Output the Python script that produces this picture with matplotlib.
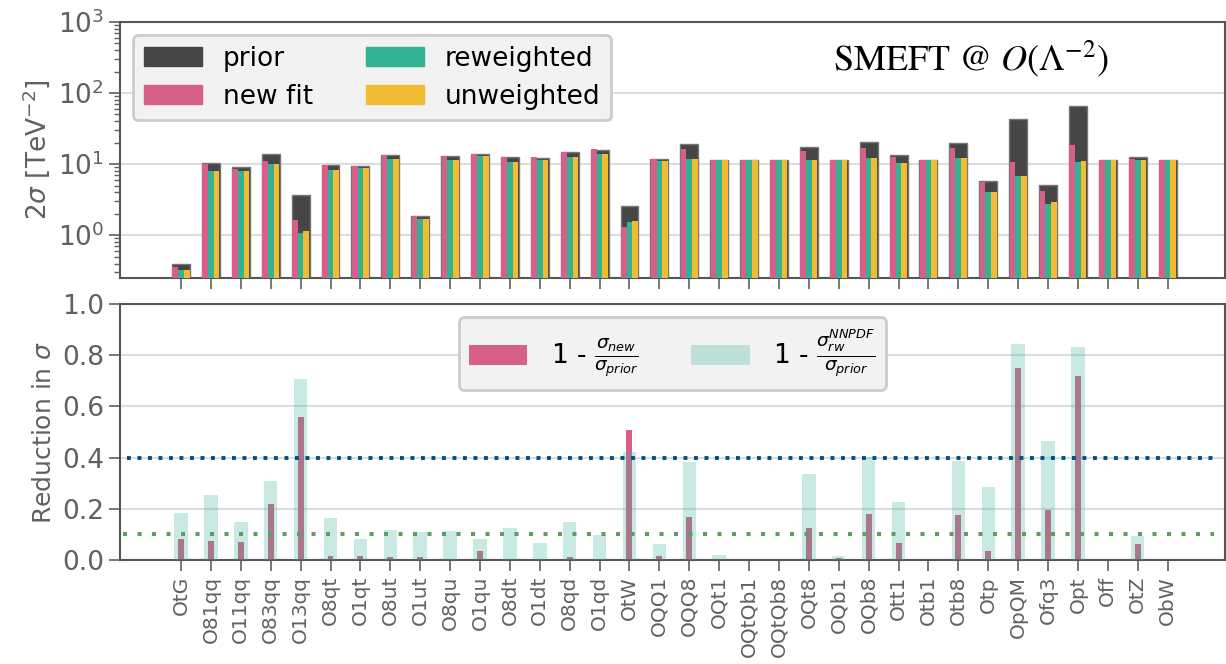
import numpy as np
import matplotlib
matplotlib.use('Agg')
import matplotlib.pyplot as plt
from matplotlib.patches import Patch

# operator names
ops = ['OtG', 'O81qq', 'O11qq', 'O83qq', 'O13qq', 'O8qt', 'O1qt', 'O8ut', 'O1ut',
       'O8qu', 'O1qu', 'O8dt', 'O1dt', 'O8qd', 'O1qd', 'OtW', 'OQQ1', 'OQQ8', 'OQt1',
       'OQtQb1', 'OQtQb8', 'OQt8', 'OQb1', 'OQb8', 'Ott1', 'Otb1', 'Otb8', 'Otp',
       'OpQM', 'Ofq3', 'Opt', 'Off', 'OtZ', 'ObW']

# 2 sigma bounds [TeV^-2]
prior = [0.39, 10.5, 9.1, 14.1, 3.64, 9.8, 9.5, 13.4, 1.87, 12.9, 13.8, 12.5, 12.3,
         14.6, 15.6, 2.61, 11.8, 19.1, 11.4, 11.4, 11.3, 17.5, 11.5, 20.4, 13.5, 11.3,
         20.0, 5.72, 43.3, 5.14, 66.6, 11.3, 12.7, 11.3]
new_fit = [0.36, 9.9, 8.5, 11.0, 1.62, 9.8, 9.5, 13.4, 1.87, 12.9, 13.7, 12.5, 12.6,
           14.6, 16.2, 1.29, 11.8, 16.1, 11.4, 11.4, 11.3, 15.4, 11.5, 16.8, 12.8, 11.3,
           16.8, 5.53, 10.6, 4.14, 18.7, 11.3, 11.8, 11.3]
reweighted = [0.32, 7.9, 7.9, 10.0, 1.07, 8.2, 8.8, 12.0, 1.69, 11.5, 13.1, 10.9, 11.5,
              12.5, 14.1, 1.52, 11.0, 12.0, 11.4, 11.4, 11.3, 11.6, 11.5, 12.1, 10.4, 11.3,
              12.4, 4.10, 6.72, 2.75, 10.9, 11.3, 11.4, 11.3]
unweighted = [0.32, 7.9, 7.9, 10.0, 1.14, 8.2, 8.8, 12.0, 1.69, 11.5, 13.1, 10.9, 11.5,
              12.5, 14.1, 1.57, 11.0, 12.0, 11.4, 11.4, 11.3, 11.6, 11.5, 12.3, 10.4, 11.3,
              12.4, 4.10, 6.72, 2.90, 11.1, 11.3, 11.4, 11.3]

# reduction in sigma
red_new = [0.081, 0.074, 0.071, 0.22, 0.559, 0.017, 0.017, 0.013, 0.010, 0.003, 0.036,
           0.004, 0.0, 0.010, 0.0, 0.506, 0.014, 0.167, 0.003, 0.0, 0.0, 0.125, 0.006,
           0.178, 0.066, 0.0, 0.177, 0.035, 0.752, 0.195, 0.72, 0.0, 0.0625, 0.0]
red_rw = [0.184, 0.255, 0.150, 0.307, 0.707, 0.163, 0.083, 0.117, 0.110, 0.112, 0.082,
          0.125, 0.066, 0.147, 0.099, 0.423, 0.064, 0.381, 0.019, 0.0, 0.0, 0.336, 0.017,
          0.401, 0.228, 0.0, 0.388, 0.284, 0.844, 0.465, 0.834, 0.0, 0.094, 0.0]

c_prior = '#464646'
c_new = '#d6608a'
c_rw = '#34b294'
c_unw = '#f2bc32'
c_tick = '#606060'

plt.rcParams['font.family'] = ['DejaVu Sans']
plt.rcParams['axes.edgecolor'] = '#555555'
plt.rcParams['axes.linewidth'] = 1.5
plt.rcParams['xtick.color'] = c_tick
plt.rcParams['ytick.color'] = c_tick
plt.rcParams['axes.labelcolor'] = c_tick

x = np.arange(len(ops))

fig = plt.figure(figsize=(12.26, 6.64), dpi=100)
ax1 = fig.add_axes([0.0979, 0.5813, 0.9013, 0.3855])
ax2 = fig.add_axes([0.0979, 0.1566, 0.9013, 0.3855])

# top panel
ax1.bar(x, prior, width=0.6, color=c_prior, edgecolor='#777777', linewidth=1, zorder=2)
ax1.bar(x - 0.19, new_fit, width=0.19, color=c_new, zorder=3)
ax1.bar(x, reweighted, width=0.19, color=c_rw, zorder=3)
ax1.bar(x + 0.19, unweighted, width=0.19, color=c_unw, zorder=3)
ax1.set_yscale('log')
ax1.set_ylim(0.25, 1000)
ax1.set_xlim(-2.04, 34.92)
ax1.set_xticks(x)
ax1.set_xticklabels([])
ax1.grid(axis='y', which='major', color='#dddddd', linewidth=1.5, zorder=0)
ax1.set_axisbelow(True)
ax1.tick_params(axis='both', which='major', length=8, width=1.2, labelsize=19)
ax1.tick_params(axis='y', which='minor', length=4, width=1)
ax1.set_ylabel(r'2$\sigma$ [TeV$^{-2}$]', fontsize=19)
handles = [Patch(color=c_prior, label='prior'), Patch(color=c_new, label='new fit'),
           Patch(color=c_rw, label='reweighted'), Patch(color=c_unw, label='unweighted')]
leg = ax1.legend(handles=handles, ncol=2, loc='upper left', fontsize=19,
                 handlelength=2.2, handleheight=0.75, columnspacing=2.0,
                 handletextpad=0.8, labelspacing=0.45, facecolor='#f2f2f2',
                 edgecolor='#cccccc', framealpha=1)
leg.get_frame().set_linewidth(2)
ax1.text(0.77, 0.855, r'SMEFT @ $O(\Lambda^{-2})$', transform=ax1.transAxes,
         fontsize=26, family='STIXGeneral', math_fontfamily='stix',
         ha='center', va='center')

# bottom panel
ax2.bar(x, red_new, width=0.2, color=c_new, zorder=2, label=r'1 - $\frac{\sigma_{new}}{\sigma_{prior}}$')
ax2.bar(x, red_rw, width=0.45, color=c_rw, alpha=0.27, zorder=3,
        label=r'1 - $\frac{\sigma_{rw}^{NNPDF}}{\sigma_{prior}}$')
ax2.axhline(0.4, xmin=0.006, xmax=0.99, color='#005082', linestyle=(0, (1, 1.7)),
            linewidth=2.8, zorder=4)
ax2.axhline(0.1, xmin=0.003, xmax=0.99, color='#5f9e5f', linestyle=(0, (1, 2.6)),
            linewidth=2.9, zorder=4)
ax2.set_ylim(0, 1.0)
ax2.set_xlim(-2.04, 34.92)
ax2.set_xticks(x)
ax2.set_xticklabels(ops, rotation=90, fontsize=14.5)
ax2.set_yticks([0.0, 0.2, 0.4, 0.6, 0.8, 1.0])
ax2.grid(axis='y', color='#dddddd', linewidth=1.5, zorder=0)
ax2.set_axisbelow(True)
ax2.tick_params(axis='both', which='major', length=8, width=1.2)
ax2.tick_params(axis='y', labelsize=19)
ax2.set_ylabel(r'Reduction in $\sigma$', fontsize=18)
leg2 = ax2.legend(ncol=2, loc='upper center', fontsize=19, handlelength=2.2,
                  handleheight=0.75, columnspacing=2.0, handletextpad=0.9,
                  facecolor='#f2f2f2', edgecolor='#cccccc', framealpha=1)
leg2.get_frame().set_linewidth(2)

fig.align_ylabels([ax1, ax2])
fig.savefig('out.png', dpi=100)
